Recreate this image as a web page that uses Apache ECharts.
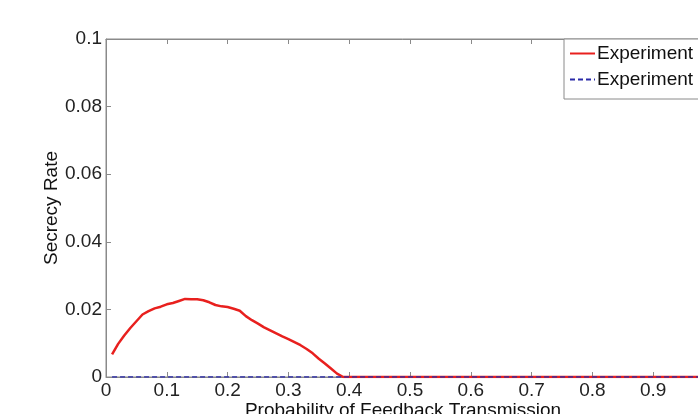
<!DOCTYPE html>
<html>
<head>
<meta charset="utf-8">
<script src="https://cdn.jsdelivr.net/npm/echarts@6/dist/echarts.min.js"></script>
<style>
  html, body { margin: 0; padding: 0; background: #fff; }
  #chart { width: 698px; height: 414px; }
</style>
</head>
<body>
<div id="chart"></div>
<script>
// probability of feedback transmission (x) and secrecy rate (y)
const redX = [0.01, 0.02, 0.03, 0.04, 0.05, 0.06, 0.07, 0.08, 0.09, 0.10,
              0.11, 0.12, 0.13, 0.14, 0.15, 0.16, 0.17, 0.18, 0.19, 0.20,
              0.21, 0.22, 0.23, 0.24, 0.25, 0.26, 0.27, 0.28, 0.29, 0.30,
              0.31, 0.32, 0.33, 0.34, 0.35, 0.36, 0.37, 0.38, 0.39, 0.40, 1.0];
const redY = [0.0067, 0.0098, 0.0123, 0.0145, 0.0165, 0.0185, 0.0195, 0.0203, 0.0208, 0.0215,
              0.0219, 0.0225, 0.0231, 0.0230, 0.0230, 0.0227, 0.0221, 0.0213, 0.0209, 0.0207,
              0.0202, 0.0196, 0.0180, 0.0168, 0.0158, 0.0147, 0.0138, 0.0129, 0.0120, 0.0112,
              0.0103, 0.0094, 0.0083, 0.0070, 0.0054, 0.0040, 0.0025, 0.0010, 0.0000, 0.0000, 0.0000];
const blueX = [0.01, 1.0];
const blueY = [0, 0];

const seriesNames = ['Experiment A', 'Experiment B'];
const legendLabels = ['Experiment', 'Experiment'];

const xTicks = { min: 0, max: 1, interval: 0.1 };
const yTicks = { min: 0, max: 0.1, interval: 0.02 };

const font = 'Liberation Sans, Arial, sans-serif';
const axisGray = '#8a8a8a';

var chart = echarts.init(document.getElementById('chart'), null, { renderer: 'canvas' });

var option = {
  animation: false,
  backgroundColor: '#fff',
  textStyle: { fontFamily: font },
  grid: {
    left: 106,
    top: 39,
    right: -16,
    bottom: 37,
    outerBoundsMode: 'none',
    containLabel: false,
    show: true,
    borderColor: axisGray,
    borderWidth: 1
  },
  legend: {
    orient: 'vertical',
    left: 564,
    top: 39,
    backgroundColor: '#fff',
    borderColor: axisGray,
    borderWidth: 1,
    borderRadius: 0,
    padding: [5, 40, 10, 5],
    itemWidth: 25,
    itemHeight: 10,
    itemGap: 7,
    itemStyle: { opacity: 0 },
    textStyle: { fontSize: 19, color: '#111', fontFamily: font, padding: [0, 0, 0, -3] },
    formatter: function (name) {
      return legendLabels[seriesNames.indexOf(name)];
    },
    data: seriesNames
  },
  xAxis: [
    {
      type: 'value',
      min: xTicks.min,
      max: xTicks.max,
      interval: xTicks.interval,
      name: 'Probability of Feedback Transmission',
      nameLocation: 'middle',
      nameGap: 24,
      nameMoveOverlap: false,
      nameTextStyle: { fontSize: 19, color: '#111', padding: [0, 14, 0, 0] },
      axisLine: { lineStyle: { color: axisGray } },
      axisTick: { inside: true, length: 5, lineStyle: { color: axisGray } },
      axisLabel: { fontSize: 19, color: '#222', margin: 4 },
      splitLine: { show: false }
    },
    {
      type: 'value',
      position: 'top',
      min: xTicks.min,
      max: xTicks.max,
      interval: xTicks.interval,
      axisLine: { lineStyle: { color: axisGray } },
      axisTick: { inside: true, length: 5, lineStyle: { color: axisGray } },
      axisLabel: { show: false },
      splitLine: { show: false }
    }
  ],
  yAxis: {
    type: 'value',
    min: yTicks.min,
    max: yTicks.max,
    interval: yTicks.interval,
    name: 'Secrecy Rate',
    nameLocation: 'middle',
    nameGap: 45,
    nameMoveOverlap: false,
    nameTextStyle: { fontSize: 19, color: '#111' },
    axisLine: { show: true, lineStyle: { color: axisGray } },
    axisTick: { show: true, inside: true, length: 5, lineStyle: { color: axisGray } },
    axisLabel: { fontSize: 19, color: '#222', margin: 4 },
    splitLine: { show: false }
  },
  series: [
    {
      name: seriesNames[0],
      type: 'line',
      symbol: 'none',
      data: redX.map((x, i) => [x, redY[i]]),
      lineStyle: { color: '#e8201e', width: 2.5 },
      itemStyle: { color: '#e8201e' },
      z: 3
    },
    {
      name: seriesNames[1],
      type: 'line',
      symbol: 'none',
      data: blueX.map((x, i) => [x, blueY[i]]),
      lineStyle: { color: '#2a2aa8', width: 1.5, type: [5, 3] },
      itemStyle: { color: '#2a2aa8' },
      z: 4
    }
  ]
};

chart.setOption(option);
window.addEventListener('resize', chart.resize);
</script>
</body>
</html>
